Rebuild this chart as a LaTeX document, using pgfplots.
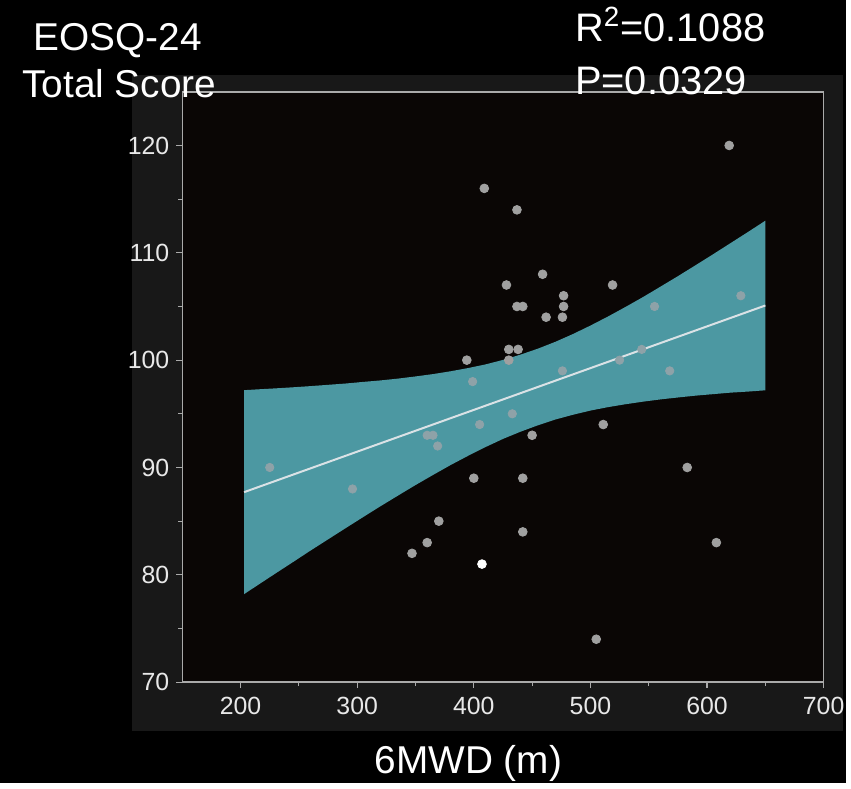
\documentclass[border=0pt]{standalone}
\usepackage{pgfplots}
\pgfplotsset{compat=1.18}
\usepackage{pgfplotstable}
\usepackage{fontspec}
\setmainfont{Liberation Sans}

\definecolor{panel}{RGB}{24,24,24}
\definecolor{plotbg}{RGB}{10,6,5}
\definecolor{band}{RGB}{76,152,162}
\definecolor{dotgray}{RGB}{160,160,160}
\definecolor{dotin}{RGB}{142,162,168}
\definecolor{fitline}{RGB}{218,226,230}
\definecolor{axisgray}{RGB}{170,170,170}
\definecolor{labelgray}{RGB}{232,232,232}

% 95% confidence band of the fitted line, traced as one closed outline:
% upper limit left to right, then lower limit right to left
\pgfplotstableread{
x y
203 97.20
215 97.28
230 97.37
245 97.47
260 97.58
275 97.70
290 97.82
305 97.97
320 98.11
335 98.28
350 98.48
365 98.70
380 98.96
395 99.26
410 99.60
425 100.02
440 100.51
455 101.07
470 101.71
485 102.43
500 103.22
515 104.06
530 104.95
545 105.87
560 106.84
575 107.82
590 108.83
605 109.85
620 110.89
635 111.93
650 112.99
650 97.19
635 97.07
620 96.97
605 96.83
590 96.69
575 96.52
560 96.34
545 96.13
530 95.89
515 95.62
500 95.30
485 94.91
470 94.47
455 93.93
440 93.33
425 92.66
410 91.90
395 91.08
380 90.22
365 89.30
350 88.36
335 87.38
320 86.39
305 85.37
290 84.34
275 83.30
260 82.26
245 81.19
230 80.13
215 79.06
203 78.20
}\bandtable

% patients outside the band
\pgfplotstableread{
x y
347 82
360 83
370 85
394 100
400 89
409 116
428 107
430 101
430 100
437 114
437 105
438 101
442 105
442 89
442 84
450 93
459 108
462 104
476 104
477 105
477 106
505 74
511 94
519 107
583 90
608 83
619 120
}\outsidepts

% patients inside the band
\pgfplotstableread{
x y
225 90
296 88
360 93
365 93
369 92
399 98
405 94
433 95
476 99
525 100
544 101
555 105
568 99
629 106
}\insidepts

\begin{document}
\begin{tikzpicture}
\fill[black] (0pt,0pt) rectangle (425.5pt,393.5pt);
\fill[panel] (66.5pt,26pt) rectangle (424pt,356pt);

\begin{axis}[
  at={(91.65pt,50.5pt)}, anchor=south west,
  scale only axis, width=322.5pt, height=296.85pt,
  xmin=150, xmax=700, ymin=70, ymax=125,
  xtick={200,300,...,700}, ytick={70,80,...,120},
  minor x tick num=1, minor y tick num=1,
  tick pos=left, tick align=outside,
  major tick length=3pt, minor tick length=2pt,
  axis line style={axisgray, line width=0.75pt},
  every tick/.style={axisgray, line width=0.6pt},
  axis background/.style={fill=plotbg},
  /pgf/number format/assume math mode=true,
  ticklabel style={font=\fontsize{12.5}{13}\selectfont, text=labelgray},
  xticklabel style={yshift=-1pt},
  clip=false,
]
\addplot[band, fill=band, draw=none] table[x=x, y=y] {\bandtable} -- cycle;

\addplot[only marks, mark=*, mark size=2.2pt, color=dotgray, mark options={fill=dotgray, draw=dotgray}]
  table[x=x, y=y] {\outsidepts};
\addplot[only marks, mark=*, mark size=2.1pt, color=dotin, mark options={fill=dotin, draw=dotin}]
  table[x=x, y=y] {\insidepts};

\addplot[fitline, line width=1.0pt] coordinates {(203,87.70) (650,105.09)};

\addplot[only marks, mark=*, mark size=2.2pt, color=white, mark options={fill=white, draw=white}]
  coordinates {(407,81)};
\end{axis}

\node[anchor=base, text=white, font=\fontsize{19.5}{22}\selectfont] at (59.15pt,368.15pt) {EOSQ-24};
\node[anchor=base, text=white, font=\fontsize{19.5}{22}\selectfont] at (60pt,344.35pt) {Total Score};
\node[anchor=base west, inner sep=0pt, text=white, font=\fontsize{20}{22}\selectfont] at (289pt,372.5pt) {R\textsuperscript{2}=0.1088};
\node[anchor=base west, inner sep=0pt, text=white, font=\fontsize{20}{22}\selectfont] at (289pt,346pt) {P=0.0329};
\node[anchor=base, text=white, font=\fontsize{19.5}{22}\selectfont] at (235.5pt,4.5pt) {6MWD (m)};
\end{tikzpicture}
\end{document}
